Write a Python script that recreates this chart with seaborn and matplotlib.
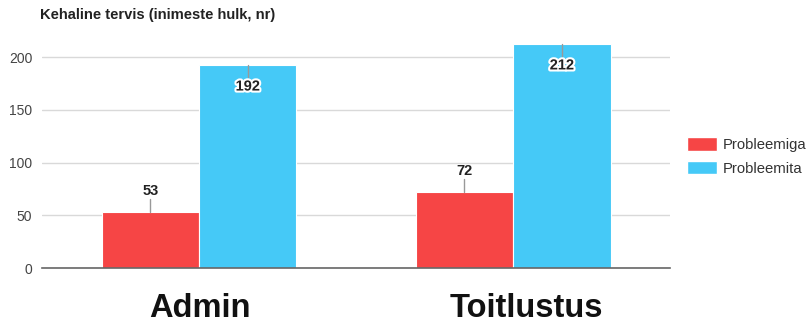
import matplotlib
matplotlib.use("Agg")
import matplotlib.pyplot as plt
import matplotlib.patheffects as pe
import matplotlib.transforms as mtransforms
import seaborn as sns
import pandas as pd

categories = ["Admin", "Toitlustus"]
series = ["Probleemiga", "Probleemita"]
probleemiga = [53, 72]
probleemita = [192, 212]
yticks = [0, 50, 100, 150, 200]
title = "Kehaline tervis (inimeste hulk, nr)"

colors = {"Probleemiga": "#f64545", "Probleemita": "#45c9f7"}

df = pd.DataFrame({
    "cat": categories * 2,
    "series": [series[0]] * 2 + [series[1]] * 2,
    "value": probleemiga + probleemita,
})

sns.set_theme(style="white")
plt.rcParams["font.family"] = ["Liberation Sans", "DejaVu Sans"]

fig = plt.figure(figsize=(8.07, 3.2), dpi=100)
ax = fig.add_axes([0.052, 0.1625, 0.7785, 0.7055])

sns.barplot(data=df, x="cat", y="value", hue="series", palette=colors,
            width=0.62, ax=ax, legend=False, saturation=1,
            edgecolor="white", linewidth=0.8)

ax.set_xlim(-0.5, 1.5)
ax.set_ylim(0, 214)
ax.set_yticks(yticks)
ax.yaxis.grid(True, color="#d9d9d9", linewidth=1)
ax.set_axisbelow(True)
for s in ["top", "right", "left"]:
    ax.spines[s].set_visible(False)
ax.spines["bottom"].set_color("#666666")
ax.spines["bottom"].set_linewidth(1.2)
ax.tick_params(axis="y", labelsize=10, labelcolor="#444444", length=0, pad=7)
ax.tick_params(axis="x", length=0, labelbottom=False)
ax.set_xlabel("")
ax.set_ylabel("")

# category labels (large, bold) placed on the category axis positions
base = mtransforms.blended_transform_factory(ax.transData, ax.transAxes)
label_dx = [1, 13]
for i, cat in enumerate(categories):
    tr = mtransforms.offset_copy(base, fig=fig, x=label_dx[i], y=-49, units="dots")
    ax.text(i, 0, cat, transform=tr, ha="center", va="baseline",
            fontsize=23.5, fontweight="bold", color="#111111")

# data labels
for i, container in enumerate(ax.containers):
    for bar in container:
        h = bar.get_height()
        xc = bar.get_x() + bar.get_width() / 2
        if i == 0:
            ax.plot([xc, xc], [h, h + 12], color="#999999", lw=1, clip_on=False)
            ax.annotate(f"{int(h)}", (xc, h + 20), ha="center", va="center",
                        fontsize=10.5, fontweight="bold", color="#222222")
        else:
            ax.plot([xc, xc], [h, h - 11], color="#999999", lw=1, clip_on=False)
            t = ax.annotate(f"{int(h)}", (xc, h - 20), ha="center", va="center",
                            fontsize=10.5, fontweight="bold", color="#222222")
            t.set_path_effects([pe.withStroke(linewidth=3, foreground="white")])

fig.text(40 / 807, 1 - 15 / 320, title, fontsize=10.6, fontweight="bold",
         color="#222222", ha="left", va="center")

handles = [plt.Rectangle((0, 0), 1, 1, facecolor=colors[s]) for s in series]
fig.legend(handles, series, loc="center left", bbox_to_anchor=(687 / 807, 1 - 156.5 / 320),
           frameon=False, fontsize=10.7, handlelength=2.0, handleheight=1.0,
           handletextpad=0.4, labelspacing=0.6, labelcolor="#333333",
           borderpad=0, borderaxespad=0)

fig.savefig("out.png", dpi=100)
